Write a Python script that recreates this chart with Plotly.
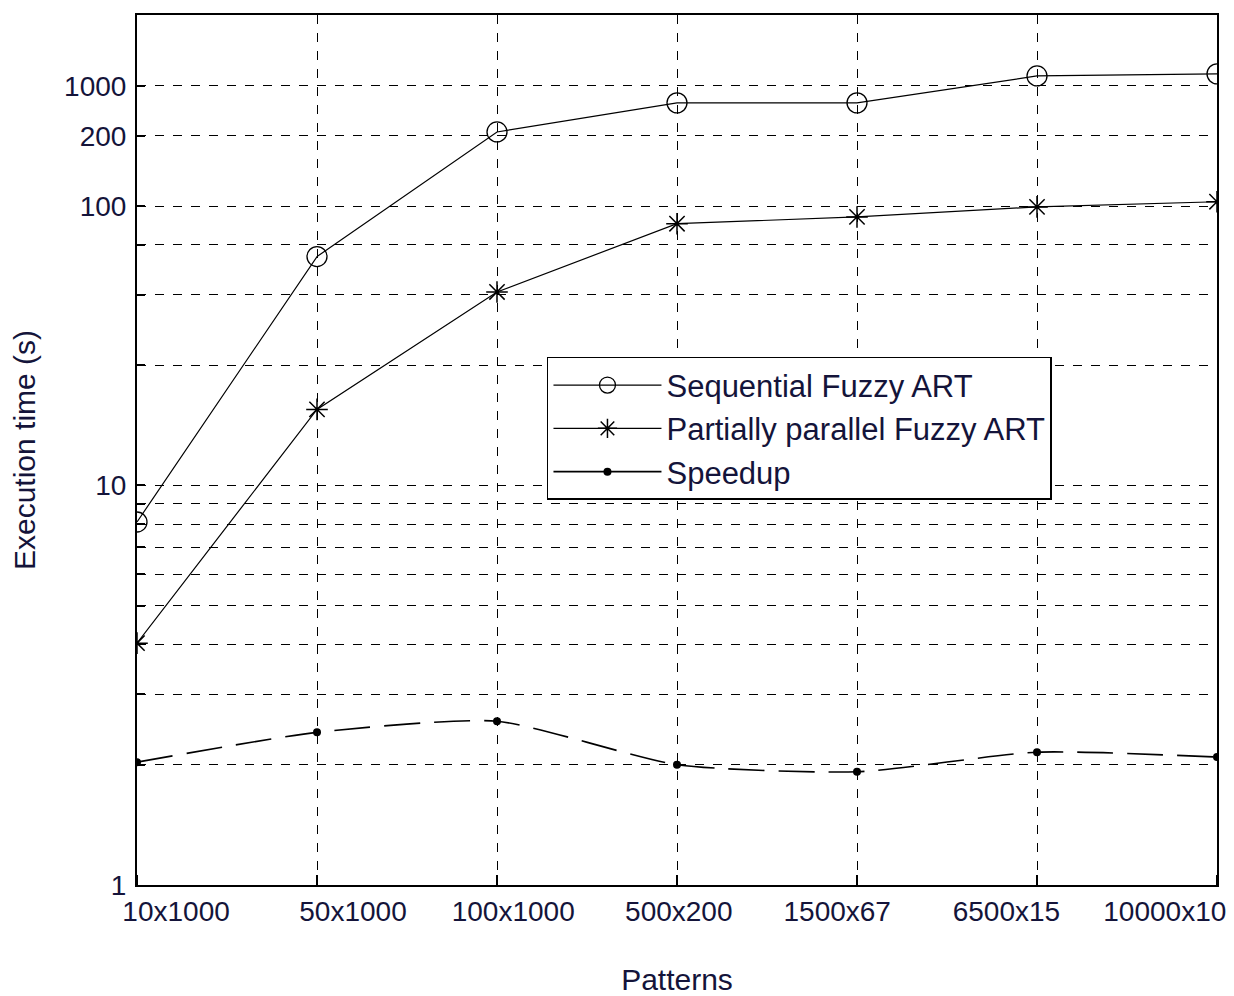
import plotly.graph_objects as go

categories = ["10x1000", "50x1000", "100x1000", "500x200", "1500x67", "6500x15", "10000x10"]
x_pos = [0, 1, 2, 3, 4, 5, 6]
sequential = [8.1, 37.4, 76.7, 90.7, 90.7, 105.9, 107.2]
partial = [4.03, 15.5, 30.5, 45.2, 47.0, 49.8, 51.3]
speedup = [2.03, 2.41, 2.57, 2.00, 1.92, 2.15, 2.09]

# where the category labels sit along the axis (label centres, in category units)
label_pos = [0.217, 1.20, 2.09, 3.01, 3.89, 4.83, 5.71]

y_grid = [1, 2, 3, 4, 5, 6, 7, 8, 9, 10, 20, 30, 40, 50, 75, 100]
y_labels = ["1", "", "", "", "", "", "", "", "", "10", "", "", "", "100", "200", "1000"]

FONT = "Liberation Sans, Arial, sans-serif"
TXT = "#14143a"

fig = go.Figure()
fig.add_trace(go.Scatter(
    x=x_pos, y=sequential, name="Sequential Fuzzy ART", mode="lines+markers",
    line=dict(color="black", width=1.2),
    marker=dict(symbol="circle-open", size=20, color="black", line=dict(width=1.3)),
))
fig.add_trace(go.Scatter(
    x=x_pos, y=partial, name="Partially parallel Fuzzy ART", mode="lines+markers",
    line=dict(color="black", width=1.2),
    marker=dict(symbol="asterisk-open", size=18, color="black", line=dict(width=1.5)),
))
fig.add_trace(go.Scatter(
    x=x_pos, y=speedup, name="Speedup", mode="lines+markers", showlegend=False,
    line=dict(color="black", width=1.6, dash="36px,14px", shape="spline", smoothing=0.6),
    marker=dict(symbol="circle", size=8, color="black"),
))
# legend entry for the speedup curve (drawn solid in the reference legend)
fig.add_trace(go.Scatter(
    x=[None], y=[None], name="Speedup", mode="lines+markers",
    line=dict(color="black", width=1.6),
    marker=dict(symbol="circle", size=8, color="black"),
))

fig.update_layout(
    width=1234, height=996,
    margin=dict(l=137, r=17, t=15, b=111),
    paper_bgcolor="white", plot_bgcolor="white",
    font=dict(family=FONT, size=28, color=TXT),
    showlegend=True,
    legend=dict(
        x=0.3796, y=0.607, xanchor="left", yanchor="top",
        bordercolor="black", borderwidth=1.5, bgcolor="white",
        font=dict(family=FONT, size=31, color=TXT),
        itemwidth=108, tracegroupgap=0,
    ),
)

fig.update_xaxes(
    range=[0, 6], showline=True, linecolor="black", linewidth=2, mirror=True,
    automargin=False,
    tickmode="array", tickvals=label_pos, ticktext=categories,
    ticks="", showgrid=False, zeroline=False,
    minor=dict(tickmode="array", tickvals=x_pos, showgrid=True, gridcolor="black",
               griddash="dash", gridwidth=1.3, ticks="inside", ticklen=10,
               tickcolor="black", tickwidth=1.5),
    title=dict(text="Patterns", font=dict(family=FONT, size=30, color=TXT), standoff=49),
    tickfont=dict(family=FONT, size=28, color=TXT),
)

fig.update_yaxes(
    type="log", range=[0, 2.1775], showline=True, linecolor="black", linewidth=2, mirror=True,
    automargin=False,
    tickmode="array", tickvals=y_grid, ticktext=y_labels,
    ticks="inside", ticklen=8, tickcolor="black", tickwidth=1.5, ticklabelstandoff=3,
    showgrid=True, gridcolor="black", griddash="dash", gridwidth=1.3, zeroline=False,
    title=dict(text="Execution time (s)", font=dict(family=FONT, size=30, color=TXT), standoff=20),
    tickfont=dict(family=FONT, size=28, color=TXT),
)

fig.write_html(
    "out.html",
    config={"displayModeBar": False},
    post_script="document.body.style.margin='0';document.body.style.overflow='hidden';",
)
